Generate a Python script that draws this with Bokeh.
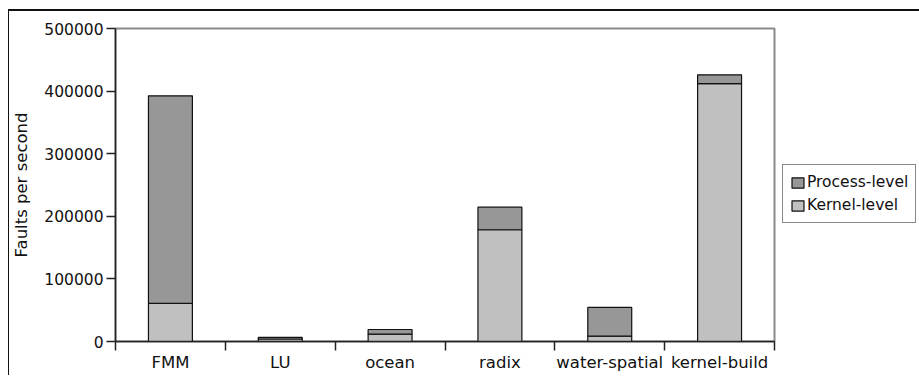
from bokeh.plotting import figure
from bokeh.models import (Range1d, FixedTicker, LinearAxis, Legend, LegendItem,
                          ColumnDataSource, BasicTickFormatter)
from bokeh.embed import file_html
from bokeh.resources import INLINE

categories = ["FMM", "LU", "ocean", "radix", "water-spatial", "kernel-build"]
kernel_level = [61000, 4000, 11700, 178500, 8500, 412000]
process_level = [331500, 2500, 7500, 36000, 46000, 14000]
y_ticks = [0, 100000, 200000, 300000, 400000, 500000]

x_pos = [i + 0.5 for i in range(len(categories))]
src = ColumnDataSource(dict(x=x_pos, kernel=kernel_level, process=process_level))

p = figure(frame_width=659, frame_height=313, output_backend="svg", toolbar_location=None,
           x_range=Range1d(0, len(categories)), y_range=Range1d(0, 500000),
           x_axis_location=None, y_axis_location=None,
           min_border_left=105, min_border_right=145, min_border_top=17, min_border_bottom=34)
p.styles = {"margin-left": "8px", "margin-top": "9px",
            "border-left": "1px solid #111111", "border-top": "2px solid #111111"}
p.xgrid.visible = False
p.ygrid.visible = False
p.outline_line_color = "#8a8a8a"
p.outline_line_width = 2
p.background_fill_color = "white"
p.border_fill_color = "white"

rs = p.vbar_stack(["kernel", "process"], x="x", width=0.4, source=src,
                  color=["#c0c0c0", "#979797"], line_color="#111111", line_width=1.2)
for r in rs:
    r.glyph.line_color = "#111111"

FONT = "DejaVu Sans"

xax = LinearAxis(ticker=FixedTicker(ticks=x_pos, minor_ticks=list(range(len(categories) + 1))),
                 major_label_overrides={x: c for x, c in zip(x_pos, categories)})
xax.major_tick_out = 0
xax.major_tick_in = 0
xax.minor_tick_out = 9
xax.minor_tick_in = 0
xax.minor_tick_line_color = "#222222"
xax.minor_tick_line_width = 1.5
xax.axis_line_color = "#222222"
xax.axis_line_width = 1.5
xax.major_label_standoff = 2
xax.major_label_text_font = FONT
xax.major_label_text_font_size = "16.5px"
xax.major_label_text_color = "#111111"
p.add_layout(xax, "below")

yax = LinearAxis(ticker=FixedTicker(ticks=y_ticks, minor_ticks=[]),
                 formatter=BasicTickFormatter(use_scientific=False),
                 axis_label="Faults per second")
yax.major_tick_out = 9
yax.major_tick_in = 0
yax.major_tick_line_color = "#222222"
yax.major_tick_line_width = 1.5
yax.axis_line_color = "#222222"
yax.axis_line_width = 1.5
yax.major_label_standoff = 3
yax.major_label_text_font = FONT
yax.major_label_text_font_size = "15.5px"
yax.major_label_text_color = "#111111"
yax.axis_label_text_font = FONT
yax.axis_label_text_font_size = "16.5px"
yax.axis_label_text_font_style = "normal"
yax.axis_label_text_color = "#111111"
yax.axis_label_standoff = 10
p.add_layout(yax, "left")

legend = Legend(items=[LegendItem(label="Process-level", renderers=[rs[1]]),
                       LegendItem(label="Kernel-level", renderers=[rs[0]])],
                location=(8, 118), margin=0, padding=7, spacing=3,
                glyph_width=15, glyph_height=13, label_height=20, label_standoff=2,
                label_text_font=FONT, label_text_font_size="15.5px", label_text_color="#111111",
                border_line_color="#111111", border_line_width=1,
                background_fill_alpha=1)
p.add_layout(legend, "right")

open("out.html", "w").write(file_html(p, INLINE))
